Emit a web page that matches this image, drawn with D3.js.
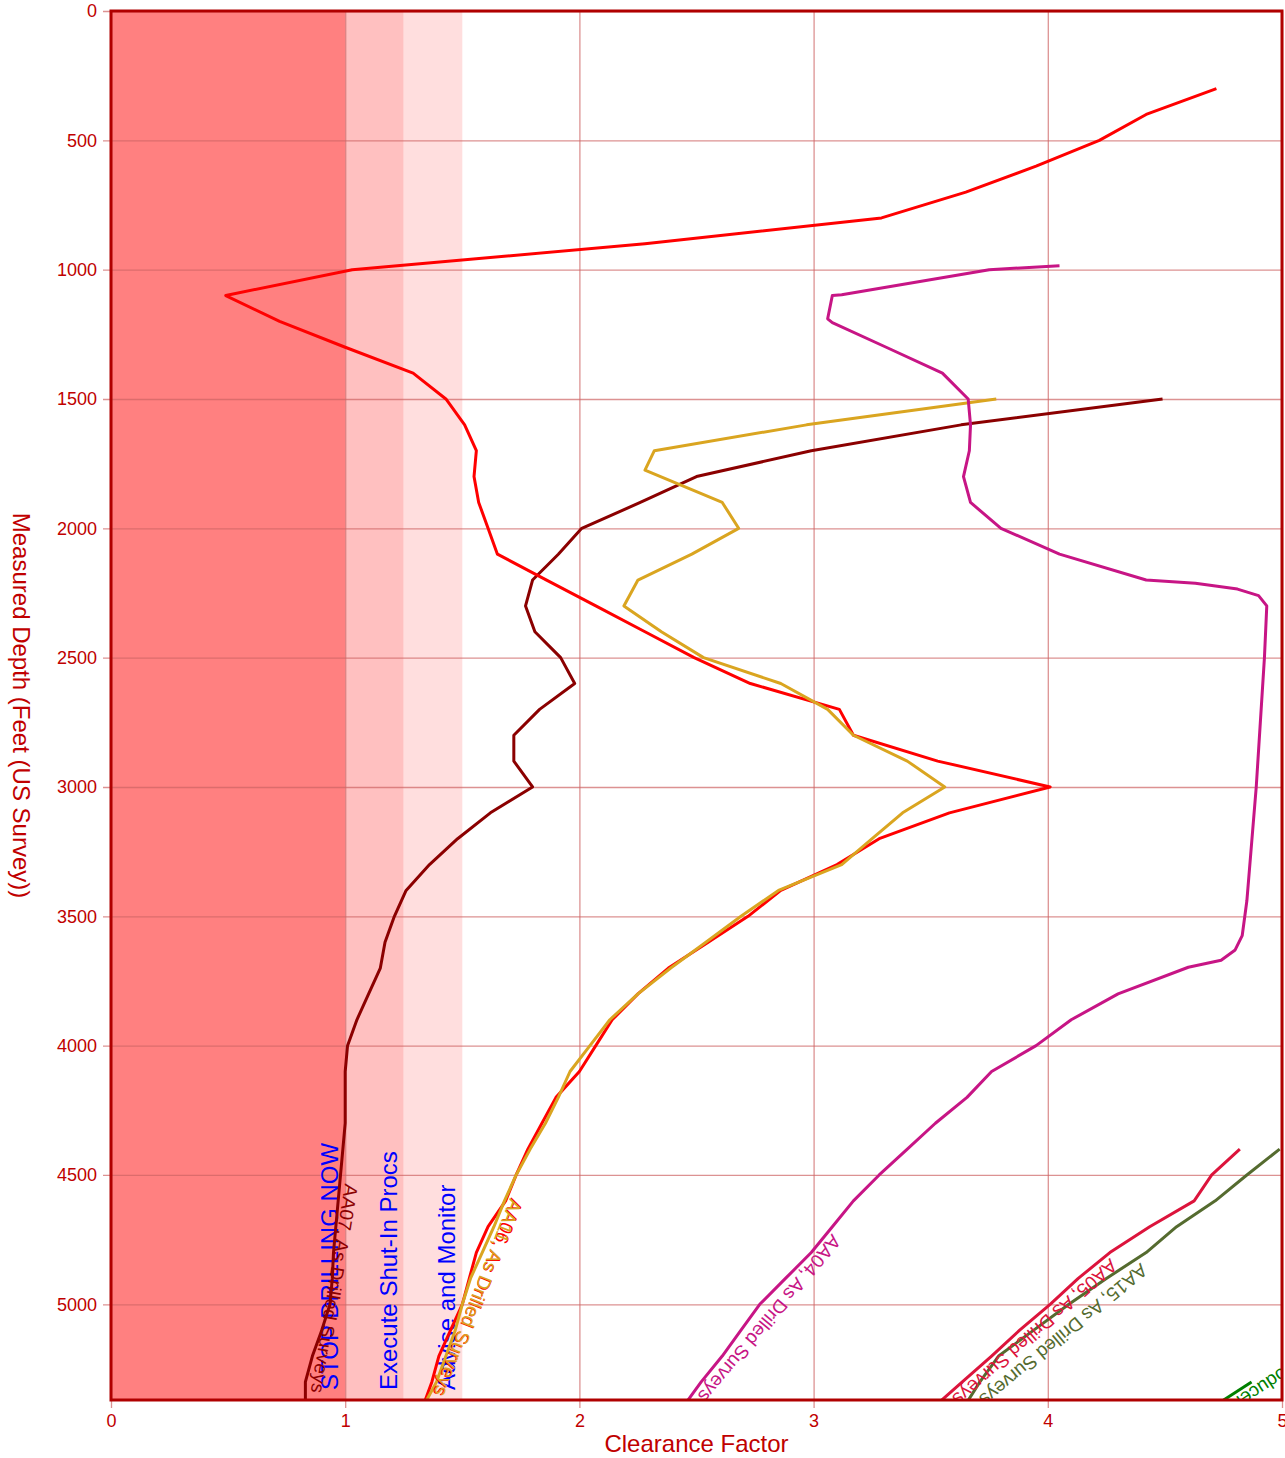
<!DOCTYPE html>
<html><head><meta charset="utf-8">
<script src="https://cdn.jsdelivr.net/npm/d3@7"></script>
<style>body{margin:0;background:#fff}</style>
</head><body>
<svg id="chart" width="1285" height="1458"></svg>
<script>
// ---------- data ----------
const xTicks = [0, 1, 2, 3, 4, 5];
const yTicks = [0, 500, 1000, 1500, 2000, 2500, 3000, 3500, 4000, 4500, 5000];
const xTitle = "Clearance Factor";
const yTitle = "Measured Depth (Feet (US Survey))";

const bandStops = [0, 1, 1.25, 1.5];
const bandColors = ["#ff8080", "#ffc0c0", "#ffdede"];
const bandLabels = ["STOP DRILLING NOW", "Execute Shut-In Procs", "Advise and Monitor"];

const seriesNames = ["AA07, As Drilled Surveys", "AA06, As Drilled Surveys", "AA11, As Drilled Surveys",
  "AA04, As Drilled Surveys", "AA05, As Drilled Surveys", "AA15, As Drilled Surveys", "AA02, Producer"];
const seriesColors = ["#8b0000", "#ff0000", "#daa520", "#c71585", "#dc143c", "#556b2f", "#008000"];

const aa07Depth = [1500,1600,1700,1800,1900,2000,2100,2200,2300,2400,2500,2600,2700,2800,2900,3000,3100,3200,3300,3400,3500,3600,3700,3800,3900,4000,4100,4200,4300,4400,4500,4600,4700,4800,4900,5000,5100,5200,5300,5400];
const aa07CF = [4.49,3.63,2.99,2.50,2.26,2.01,1.91,1.80,1.77,1.81,1.92,1.98,1.83,1.72,1.72,1.80,1.62,1.48,1.36,1.26,1.21,1.17,1.15,1.10,1.05,1.01,1.0,1.0,1.0,0.99,0.98,0.97,0.96,0.95,0.945,0.935,0.9,0.86,0.83,0.83];

const aa06Depth = [300,400,500,600,700,800,900,1000,1100,1200,1300,1400,1500,1600,1700,1800,1900,2000,2100,2200,2300,2400,2500,2600,2700,2800,2900,3000,3100,3200,3300,3400,3500,3600,3700,3800,3900,4000,4100,4200,4300,4400,4500,4600,4700,4800,4900,5000,5100,5200,5300,5400];
const aa06CF = [4.72,4.42,4.22,3.95,3.65,3.29,2.28,1.03,0.49,0.72,1.0,1.29,1.43,1.51,1.56,1.55,1.57,1.61,1.65,1.86,2.07,2.28,2.49,2.73,3.11,3.17,3.53,4.01,3.58,3.28,3.1,2.86,2.72,2.55,2.38,2.25,2.14,2.07,2.0,1.9,1.84,1.78,1.73,1.685,1.61,1.56,1.53,1.5,1.45,1.4,1.37,1.33];

const aa11Depth = [1500,1600,1700,1775,1900,2000,2100,2200,2300,2400,2500,2600,2700,2800,2900,3000,3100,3200,3300,3400,3500,3600,3700,3800,3900,4000,4100,4200,4300,4400,4500,4600,4700,4800,4900,5000,5100,5200,5300,5400];
const aa11CF = [3.78,2.97,2.32,2.28,2.61,2.68,2.48,2.25,2.19,2.35,2.53,2.86,3.06,3.17,3.40,3.56,3.38,3.25,3.12,2.85,2.69,2.54,2.39,2.25,2.13,2.045,1.96,1.91,1.855,1.79,1.73,1.68,1.635,1.585,1.535,1.50,1.47,1.43,1.39,1.33];

const aa04Depth = [985,1000,1097,1100,1190,1205,1300,1400,1500,1600,1700,1800,1900,2000,2100,2200,2212,2235,2260,2300,2500,3000,3440,3575,3630,3670,3697,3800,3900,4000,4100,4200,4300,4400,4500,4600,4700,4800,4900,5000,5100,5200,5300,5400];
const aa04CF = [4.05,3.75,3.12,3.08,3.06,3.08,3.31,3.55,3.66,3.67,3.665,3.64,3.67,3.80,4.05,4.42,4.63,4.81,4.90,4.935,4.925,4.89,4.85,4.83,4.80,4.74,4.6,4.3,4.1,3.95,3.76,3.655,3.52,3.40,3.28,3.17,3.08,2.99,2.88,2.77,2.69,2.61,2.52,2.44];

const aa05Depth = [4400,4500,4600,4700,4800,4900,5000,5100,5200,5300,5400];
const aa05CF = [4.82,4.70,4.625,4.435,4.265,4.13,4.01,3.88,3.76,3.635,3.51];

const aa15Depth = [4400,4500,4600,4700,4800,4900,5000,5100,5200,5300,5400];
const aa15CF = [4.99,4.85,4.715,4.55,4.42,4.25,4.09,3.94,3.79,3.71,3.64];

const aa02Depth = [5300,5400];
const aa02CF = [4.87,4.70];

const seriesDepths = [aa07Depth, aa06Depth, aa11Depth, aa04Depth, aa05Depth, aa15Depth, aa02Depth];
const seriesCFs = [aa07CF, aa06CF, aa11CF, aa04CF, aa05CF, aa15CF, aa02CF];

// ---------- layout ----------
const W = 1285, H = 1458;
const margin = {left: 111, top: 11, right: 3, bottom: 58};
const x = d3.scaleLinear().domain([0, 5]).range([margin.left, W - margin.right]);
const y = d3.scaleLinear().domain([0, 5370]).range([margin.top, H - margin.bottom]);
const x0 = x.range()[0], x1 = x.range()[1], y0 = y.range()[0], y1 = y.range()[1];
const FONT = "'Liberation Sans', Arial, Helvetica, sans-serif";
const AXIS_RED = "#c00000";
const GRID = "rgb(205,100,100)";

const svg = d3.select("#chart").attr("font-family", FONT);

svg.append("defs").append("clipPath").attr("id", "plotClip")
  .append("rect").attr("x", x0).attr("y", y0).attr("width", x1 - x0).attr("height", y1 - y0);

// bands
const bands = d3.range(bandColors.length).map(i => ({a: bandStops[i], b: bandStops[i + 1], c: bandColors[i], t: bandLabels[i]}));
svg.append("g").selectAll("rect").data(bands).join("rect")
  .attr("x", d => x(d.a)).attr("y", y0)
  .attr("width", d => x(d.b) - x(d.a)).attr("height", y1 - y0)
  .attr("fill", d => d.c);

// axes with gridlines
const gx = svg.append("g").attr("transform", `translate(0,${y0})`)
  .call(d3.axisBottom(x).tickValues(xTicks).tickFormat(d3.format("d"))
    .tickSize(y1 - y0 + 8).tickPadding(6));
gx.select(".domain").remove();
gx.selectAll(".tick line").attr("stroke", GRID).attr("stroke-opacity", 0.7).attr("stroke-width", 1.3);
gx.selectAll(".tick text").attr("fill", AXIS_RED).attr("font-size", 18).attr("font-family", FONT);

const gy = svg.append("g").attr("transform", `translate(${x1},0)`)
  .call(d3.axisLeft(y).tickValues(yTicks).tickFormat(d3.format("d"))
    .tickSize(x1 - x0 + 8).tickPadding(6));
gy.select(".domain").remove();
gy.selectAll(".tick line").attr("stroke", GRID).attr("stroke-opacity", 0.7).attr("stroke-width", 1.3);
gy.selectAll(".tick text").attr("fill", AXIS_RED).attr("font-size", 18).attr("font-family", FONT);

// band labels
svg.append("g").selectAll("text").data(bands).join("text")
  .attr("transform", d => `translate(${x(d.b) - 7},${y1 - 10}) rotate(-90)`)
  .attr("fill", "#0000ff").attr("font-size", 24)
  .text(d => d.t);

// series
const plot = svg.append("g").attr("clip-path", "url(#plotClip)");
const line = d3.line().x(d => x(d[1])).y(d => y(d[0]));
const seriesData = seriesNames.map((n, i) => ({
  name: n, color: seriesColors[i],
  pts: seriesDepths[i].map((dep, j) => [dep, seriesCFs[i][j]])
}));
plot.selectAll("path.s").data(seriesData).join("path").attr("class", "s")
  .attr("d", d => line(d.pts))
  .attr("fill", "none").attr("stroke", d => d.color).attr("stroke-width", 3)
  .attr("stroke-linejoin", "round").attr("stroke-linecap", "butt");

function placement(pts, L) {
  const px = pts.map(p => [x(p[1]), y(p[0])]);
  let P = null, idx = px.length - 2;
  for (let i = 1; i < px.length; i++) {
    if (px[i][1] >= y1) {
      const t = (y1 - px[i - 1][1]) / (px[i][1] - px[i - 1][1]);
      P = [px[i - 1][0] + t * (px[i][0] - px[i - 1][0]), y1];
      idx = i - 1; break;
    }
  }
  if (!P) P = px[px.length - 1];
  let Q = px[0];
  for (let i = idx; i >= 0; i--) {
    if (Math.hypot(px[i][0] - P[0], px[i][1] - P[1]) >= L) { Q = px[i]; break; }
  }
  const ang = Math.atan2(P[1] - Q[1], P[0] - Q[0]) * 180 / Math.PI;
  return {P, ang};
}

plot.selectAll("text.lab").data(seriesData).join("text").attr("class", "lab")
  .each(function (d) {
    const pl = placement(d.pts, 200);
    d3.select(this)
      .attr("transform", `translate(${pl.P[0]},${pl.P[1]}) rotate(${pl.ang})`)
      .attr("x", -9).attr("dy", -4)
      .attr("text-anchor", "end");
  })
  .attr("fill", d => d.color).attr("font-size", 19)
  .text(d => d.name);

// border
svg.append("rect").attr("x", x0).attr("y", y0).attr("width", x1 - x0).attr("height", y1 - y0)
  .attr("fill", "none").attr("stroke", "#b00000").attr("stroke-width", 3);

// titles
svg.append("text").attr("x", (x0 + x1) / 2).attr("y", 1452).attr("text-anchor", "middle")
  .attr("fill", AXIS_RED).attr("font-size", 24).text(xTitle);
svg.append("text").attr("transform", `translate(13,${(y0 + y1) / 2}) rotate(90)`)
  .attr("text-anchor", "middle").attr("fill", AXIS_RED).attr("font-size", 24).text(yTitle);
</script>
</body></html>
